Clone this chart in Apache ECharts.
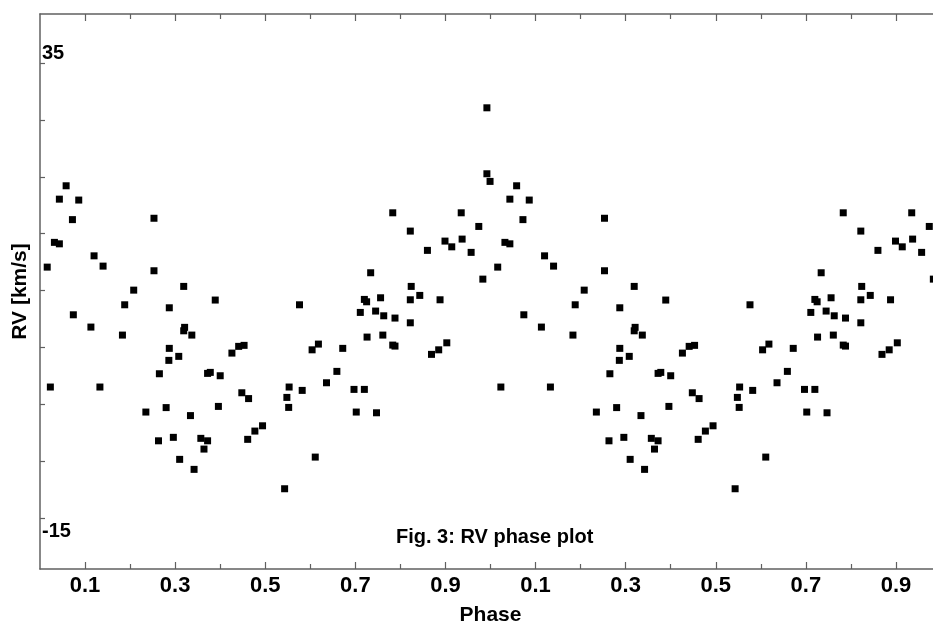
<!DOCTYPE html>
<html>
<head>
<meta charset="utf-8">
<script src="https://cdn.jsdelivr.net/npm/echarts@6/dist/echarts.min.js"></script>
<style>html,body{margin:0;padding:0;background:#fff}#c{width:933px;height:630px}</style>
</head>
<body>
<div id="c"></div>
<script>
// Phase (0..1) of each RV measurement
const phase = [0.016,0.023,0.032,0.043,0.043,0.058,0.072,0.074,0.086,0.113,0.120,0.133,0.140,0.183,0.188,0.208,0.235,0.253,0.253,0.263,
0.265,0.280,0.286,0.287,0.287,0.296,0.308,0.310,0.319,0.321,0.319,0.334,0.337,0.342,0.357,0.364,0.372,0.372,0.378,0.389,
0.396,0.400,0.426,0.441,0.453,0.448,0.461,0.463,0.477,0.494,0.543,0.548,0.552,0.553,0.576,0.582,0.604,0.618,0.611,0.636,
0.659,0.672,0.697,0.720,0.702,0.747,0.711,0.720,0.725,0.726,0.734,0.745,0.756,0.761,0.763,0.783,0.788,0.788,0.783,0.822,
0.822,0.822,0.824,0.843,0.860,0.869,0.885,0.888,0.899,0.903,0.914,0.935,0.937,0.957,0.974,0.983,0.992,0.992,0.999];
// Radial velocity [km/s]
const rv = [12.58,-0.60,15.30,15.14,20.05,21.52,17.80,7.34,19.95,5.99,13.82,-0.60,12.69,5.11,8.44,10.05,-3.35,17.95,12.18,-6.51,
0.86,-2.86,2.33,3.65,8.11,-6.13,2.77,-8.55,10.46,5.96,5.58,-3.74,5.11,-9.65,-6.24,-7.42,-6.51,0.90,1.01,8.96,
-2.73,0.64,3.13,3.87,3.98,-1.23,-6.35,-1.87,-5.44,-4.86,-11.78,-1.74,-2.84,-0.60,8.44,-0.97,3.49,4.12,-8.30,-0.13,
1.12,3.65,-0.86,-0.86,-3.35,-3.43,7.60,9.03,8.77,4.89,11.96,7.75,9.21,5.11,7.23,4.01,3.90,6.98,18.55,16.54,
8.99,6.46,10.46,9.47,14.42,2.99,3.49,8.99,15.44,4.26,14.81,18.55,15.66,14.20,17.05,11.26,30.09,22.84,22.0];
// Tick values
const xMajorTicks = [0.1,0.3,0.5,0.7,0.9,1.1,1.3,1.5,1.7,1.9];
const xMinorTicks = [0.2,0.4,0.6,0.8,1.0,1.2,1.4,1.6,1.8,2.0];
const yTicks = [35,28.75,22.5,16.25,10,3.75,-2.5,-8.75,-15];
const yLabelTop = [35];
const yLabelBottom = [-15];
const cycles = [0, 1];

const FONT = 'Liberation Sans, Arial, sans-serif';
const lineCol = '#606060';

const points = [];
cycles.forEach(c => phase.forEach((p, i) => points.push([p + c, rv[i]])));

const xBase = {
  type: 'value', min: 0, max: 2, gridIndex: 0,
  splitLine: {show: false}
};
const chart = echarts.init(document.getElementById('c'));
chart.setOption({
  backgroundColor: '#fff',
  animation: false,
  grid: {left: 40, top: 14, width: 901, height: 555, containLabel: false, outerBoundsMode: 'none'},
  xAxis: [
    Object.assign({}, xBase, {
      position: 'bottom',
      name: 'Phase', nameLocation: 'middle', nameGap: 36,
      nameTextStyle: {fontFamily: FONT, fontWeight: 'bold', fontSize: 21, color: '#000'},
      axisLine: {show: true, onZero: false, lineStyle: {color: lineCol, width: 1.5}},
      axisTick: {show: true, inside: true, length: 7, customValues: xMajorTicks, lineStyle: {color: lineCol, width: 1.2}},
      axisLabel: {show: true, customValues: xMajorTicks, margin: 6, fontFamily: FONT, fontWeight: 'bold', fontSize: 22, color: '#000',
        formatter: v => (Math.round((v % 1) * 10) / 10).toFixed(1)}
    }),
    Object.assign({}, xBase, {
      position: 'bottom', axisLine: {show: false, onZero: false},
      axisTick: {show: true, inside: true, length: 5, customValues: xMinorTicks, lineStyle: {color: lineCol, width: 1.2}},
      axisLabel: {show: false}
    }),
    Object.assign({}, xBase, {
      position: 'top',
      axisLine: {show: true, onZero: false, lineStyle: {color: lineCol, width: 1.5}},
      axisTick: {show: true, inside: true, length: 7, customValues: xMajorTicks, lineStyle: {color: lineCol, width: 1.2}},
      axisLabel: {show: false}
    }),
    Object.assign({}, xBase, {
      position: 'top', axisLine: {show: false, onZero: false},
      axisTick: {show: true, inside: true, length: 5, customValues: xMinorTicks, lineStyle: {color: lineCol, width: 1.2}},
      axisLabel: {show: false}
    })
  ],
  yAxis: [
    {
      type: 'value', min: -20.6, max: 40.4, position: 'left',
      name: 'RV [km/s]', nameLocation: 'middle', nameGap: 6,
      nameTextStyle: {fontFamily: FONT, fontWeight: 'bold', fontSize: 21, color: '#000'},
      splitLine: {show: false},
      axisLine: {show: true, onZero: false, lineStyle: {color: lineCol, width: 1.5}},
      axisTick: {show: true, inside: true, length: 5, customValues: yTicks, lineStyle: {color: lineCol, width: 1.2}},
      axisLabel: {show: true, inside: true, margin: 2, customValues: yLabelBottom, verticalAlign: 'top', lineHeight: 26,
        fontFamily: FONT, fontWeight: 'bold', fontSize: 20, color: '#000'}
    },
    {
      type: 'value', min: -20.6, max: 40.4, position: 'left',
      splitLine: {show: false}, axisLine: {show: false}, axisTick: {show: false},
      axisLabel: {show: true, inside: true, margin: 2, customValues: yLabelTop, verticalAlign: 'bottom',
        fontFamily: FONT, fontWeight: 'bold', fontSize: 20, color: '#000'}
    }
  ],
  graphic: [{
    type: 'text', left: 396, top: 527,
    style: {text: 'Fig. 3: RV phase plot', font: 'bold 20px ' + FONT, fill: '#000'}
  }],
  series: [{
    type: 'scatter', xAxisIndex: 0, yAxisIndex: 0,
    symbol: 'rect', symbolSize: 7,
    itemStyle: {color: '#000', opacity: 1},
    data: points
  }]
});
</script>
</body>
</html>
